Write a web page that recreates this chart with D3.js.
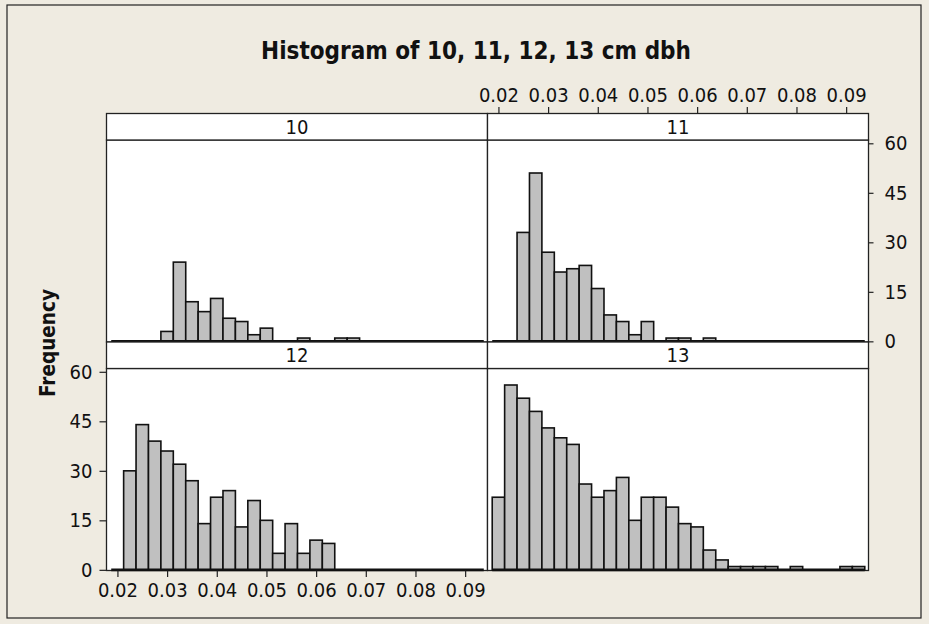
<!DOCTYPE html>
<html>
<head>
<meta charset="utf-8">
<script src="https://cdn.jsdelivr.net/npm/d3@7"></script>
<style>
  html, body { margin: 0; padding: 0; background: #efebe1; }
  svg { display: block; }
</style>
</head>
<body>
<svg id="chart" width="929" height="624"></svg>
<script>
// ---- Data ----
const panelNames = ["10", "11", "12", "13"];
const binMidpoints = [0.02, 0.0225, 0.025, 0.0275, 0.03, 0.0325, 0.035, 0.0375, 0.04, 0.0425,
                      0.045, 0.0475, 0.05, 0.0525, 0.055, 0.0575, 0.06, 0.0625, 0.065, 0.0675,
                      0.07, 0.0725, 0.075, 0.0775, 0.08, 0.0825, 0.085, 0.0875, 0.09, 0.0925];
const binWidth = 0.0025;
const counts10 = [0, 0, 0, 0, 3, 24, 12, 9, 13, 7, 6, 2, 4, 0, 0, 1, 0, 0, 1, 1, 0, 0, 0, 0, 0, 0, 0, 0, 0, 0];
const counts11 = [0, 0, 33, 51, 27, 21, 22, 23, 16, 8, 6, 2, 6, 0, 1, 1, 0, 1, 0, 0, 0, 0, 0, 0, 0, 0, 0, 0, 0, 0];
const counts12 = [0, 30, 44, 39, 36, 32, 27, 14, 22, 24, 13, 21, 15, 5, 14, 5, 9, 8, 0, 0, 0, 0, 0, 0, 0, 0, 0, 0, 0, 0];
const counts13 = [22, 56, 52, 48, 43, 40, 38, 26, 22, 24, 28, 15, 22, 22, 19, 14, 13, 6, 3, 1, 1, 1, 1, 0, 1, 0, 0, 0, 1, 1];
const xTicks = [0.02, 0.03, 0.04, 0.05, 0.06, 0.07, 0.08, 0.09];
const yTicks = [0, 15, 30, 45, 60];
const titleText = "Histogram of 10, 11, 12, 13 cm dbh";
const yLabel = "Frequency";

const allCounts = [counts10, counts11, counts12, counts13];

// ---- Layout ----
const FONT = '"DejaVu Sans Condensed", "Liberation Sans", sans-serif';
const svg = d3.select("#chart");
const W = 929, H = 624;
const colX = [106.5, 487.5];
const panelW = 381;
const stripH = 26.5;
const rowStripY = [113.5, 342];
const panelH = 202;

svg.append("rect").attr("x", 0).attr("y", 0).attr("width", W).attr("height", H).attr("fill", "#efebe1");
svg.append("rect").attr("x", 7).attr("y", 5).attr("width", 914).attr("height", 613)
  .attr("fill", "none").attr("stroke", "#222").attr("stroke-width", 1.2);

svg.append("text").attr("x", 476).attr("y", 59).attr("text-anchor", "middle")
  .attr("font-family", FONT).attr("font-weight", "bold").attr("font-size", 24)
  .attr("fill", "#111").text(titleText);

svg.append("text").attr("transform", "translate(54.5,343) rotate(-90)")
  .attr("text-anchor", "middle")
  .attr("font-family", FONT).attr("font-weight", "bold").attr("font-size", 20.5)
  .attr("fill", "#111").text(yLabel);

const x = d3.scaleLinear().domain([0.0178, 0.0945]).range([0, panelW]);
const y = d3.scaleLinear().domain([-0.2, 61]).range([panelH, 0]);

panelNames.forEach((name, i) => {
  const col = i % 2, row = Math.floor(i / 2);
  const px = colX[col];
  const sy = rowStripY[row];
  const py = sy + stripH;
  const g = svg.append("g").attr("transform", `translate(${px},${py})`);

  // strip
  svg.append("rect").attr("x", px).attr("y", sy).attr("width", panelW).attr("height", stripH)
    .attr("fill", "#fff").attr("stroke", "#222").attr("stroke-width", 1.3);
  svg.append("text").attr("x", px + panelW / 2).attr("y", sy + stripH / 2)
    .attr("dy", "0.36em").attr("text-anchor", "middle")
    .attr("font-family", FONT).attr("font-size", 20).attr("fill", "#111").text(name);

  // panel bg
  g.append("rect").attr("width", panelW).attr("height", panelH)
    .attr("fill", "#fff").attr("stroke", "#222").attr("stroke-width", 1.3);

  const counts = allCounts[i];
  const bins = binMidpoints.map((m, k) => ({ x0: m - binWidth / 2, x1: m + binWidth / 2, n: counts[k] }));

  g.selectAll("rect.bar").data(bins.filter(b => b.n > 0)).join("rect")
    .attr("class", "bar")
    .attr("x", d => x(d.x0)).attr("width", d => x(d.x1) - x(d.x0))
    .attr("y", d => y(d.n)).attr("height", d => y(0) - y(d.n))
    .attr("fill", "#c0c0c0").attr("stroke", "#111").attr("stroke-width", 1.6);

  g.append("line")
    .attr("x1", x(bins[0].x0)).attr("x2", x(bins[bins.length - 1].x1))
    .attr("y1", y(0)).attr("y2", y(0))
    .attr("stroke", "#111").attr("stroke-width", 2.6);

  const axStyle = sel => {
    sel.selectAll("path.domain").remove();
    sel.selectAll("line").attr("stroke", "#222").attr("stroke-width", 1.2);
    sel.selectAll("text").attr("font-family", FONT).attr("font-size", 20).attr("fill", "#111");
  };

  if (i === 1) {
    const ax = svg.append("g").attr("transform", `translate(${px},${sy})`)
      .call(d3.axisTop(x).tickValues(xTicks).tickFormat(d3.format(".2f")).tickSize(6.5).tickPadding(5));
    axStyle(ax);
    const ay = svg.append("g").attr("transform", `translate(${px + panelW},${py})`)
      .call(d3.axisRight(y).tickValues(yTicks).tickSize(5).tickPadding(11));
    axStyle(ay);
  }
  if (i === 2) {
    const ax = svg.append("g").attr("transform", `translate(${px},${py + panelH})`)
      .call(d3.axisBottom(x).tickValues(xTicks).tickFormat(d3.format(".2f")).tickSize(6.5).tickPadding(6));
    axStyle(ax);
    const ay = svg.append("g").attr("transform", `translate(${px},${py})`)
      .call(d3.axisLeft(y).tickValues(yTicks).tickSize(7).tickPadding(7));
    axStyle(ay);
  }
});
</script>
</body>
</html>
